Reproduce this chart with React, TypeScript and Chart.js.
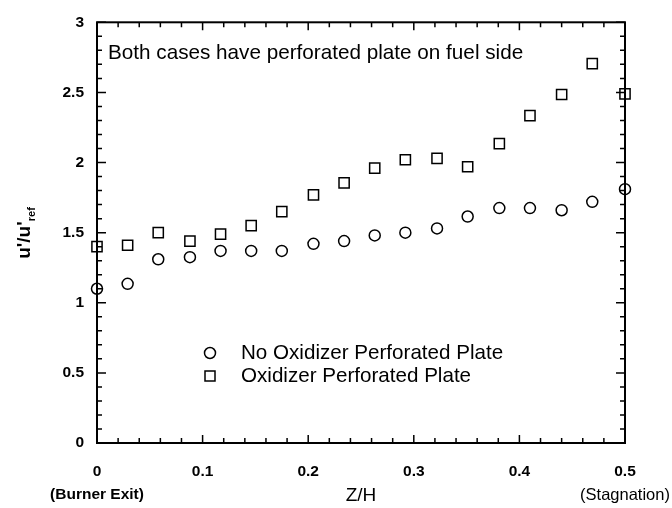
import React, { useEffect, useRef } from "react";
import { Chart, registerables } from "chart.js";

Chart.register(...registerables);

// Data
const zOverH = [0, 0.029, 0.058, 0.088, 0.117, 0.146, 0.175, 0.205, 0.234, 0.263, 0.292, 0.322, 0.351, 0.381, 0.41, 0.44, 0.469, 0.5];
const noOxidizerPlate = [1.1, 1.135, 1.31, 1.325, 1.37, 1.37, 1.37, 1.42, 1.44, 1.48, 1.5, 1.53, 1.615, 1.675, 1.675, 1.66, 1.72, 1.81];
const oxidizerPlate = [1.4, 1.41, 1.5, 1.44, 1.49, 1.55, 1.65, 1.77, 1.855, 1.96, 2.02, 2.03, 1.97, 2.135, 2.335, 2.485, 2.705, 2.49];

const seriesLabels = ["No Oxidizer Perforated Plate", "Oxidizer Perforated Plate"];
const annotationText = "Both cases have perforated plate on fuel side";
const xTickLabels = ["0", "0.1", "0.2", "0.3", "0.4", "0.5"];
const yTickLabels = ["0", "0.5", "1", "1.5", "2", "2.5", "3"];

const FONT = "'Liberation Sans', Arial, Helvetica, sans-serif";

const framePlugin = {
  id: "frameAndTicks",
  afterDatasetsDraw(chart: any) {
    const { ctx, chartArea: a, scales } = chart;
    const xs = scales.x;
    const ys = scales.y;
    ctx.save();
    ctx.strokeStyle = "#000";
    ctx.lineWidth = 2;
    ctx.strokeRect(a.left, a.top, a.right - a.left, a.bottom - a.top);
    ctx.lineWidth = 1.5;
    ctx.beginPath();
    for (let i = 0; i <= 25; i++) {
      const v = i * 0.02;
      const px = xs.getPixelForValue(v);
      const len = i % 5 === 0 ? 8 : 5;
      ctx.moveTo(px, a.bottom);
      ctx.lineTo(px, a.bottom - len);
      ctx.moveTo(px, a.top);
      ctx.lineTo(px, a.top + len);
    }
    for (let i = 0; i <= 30; i++) {
      const v = i * 0.1;
      const py = ys.getPixelForValue(v);
      const len = i % 5 === 0 ? 9 : 5;
      ctx.moveTo(a.left, py);
      ctx.lineTo(a.left + len, py);
      ctx.moveTo(a.right, py);
      ctx.lineTo(a.right - len, py);
    }
    ctx.stroke();
    ctx.restore();
  },
  afterDraw(chart: any) {
    const { ctx, chartArea: a, scales } = chart;
    const xs = scales.x;
    ctx.save();
    ctx.fillStyle = "#000";
    ctx.strokeStyle = "#000";
    ctx.textBaseline = "middle";

    // annotation
    ctx.font = `20.7px ${FONT}`;
    ctx.textAlign = "left";
    ctx.fillText(annotationText, 108, 53);

    // legend
    const legendX = 210;
    const rows = [353, 376];
    ctx.lineWidth = 1.5;
    ctx.beginPath();
    ctx.arc(legendX, rows[0], 5.5, 0, Math.PI * 2);
    ctx.stroke();
    ctx.strokeRect(legendX - 5, rows[1] - 5, 10, 10);
    ctx.font = `20.6px ${FONT}`;
    ctx.fillText(seriesLabels[0], 241, rows[0]);
    ctx.fillText(seriesLabels[1], 241, rows[1]);

    // x-axis title and end notes
    ctx.textAlign = "center";
    ctx.font = `19px ${FONT}`;
    ctx.fillText("Z/H", (a.left + a.right) / 2, 496);
    ctx.font = `bold 15.5px ${FONT}`;
    ctx.fillText("(Burner Exit)", xs.getPixelForValue(0), 495);
    ctx.font = `16.5px ${FONT}`;
    ctx.fillText("(Stagnation)", xs.getPixelForValue(0.5), 495);

    // y-axis title u'/u'ref
    ctx.save();
    ctx.translate(25, 233);
    ctx.rotate(-Math.PI / 2);
    ctx.font = `bold 19px ${FONT}`;
    const main = "u'/u'";
    const wMain = ctx.measureText(main).width;
    ctx.font = `bold 11px ${FONT}`;
    const sub = "ref";
    const wSub = ctx.measureText(sub).width;
    const start = -(wMain + wSub) / 2;
    ctx.textAlign = "left";
    ctx.textBaseline = "alphabetic";
    ctx.font = `bold 19px ${FONT}`;
    ctx.fillText(main, start, 5);
    ctx.font = `bold 11px ${FONT}`;
    ctx.fillText(sub, start + wMain, 10);
    ctx.restore();

    ctx.restore();
  },
};

export default function App() {
  const canvasRef = useRef<HTMLCanvasElement | null>(null);

  useEffect(() => {
    const canvas = canvasRef.current;
    if (!canvas) return;
    const toPoints = (ys: number[]) => ys.map((y, i) => ({ x: zOverH[i], y }));
    const chart = new Chart(canvas, {
      type: "scatter",
      data: {
        datasets: [
          {
            label: seriesLabels[0],
            data: toPoints(noOxidizerPlate),
            pointStyle: "circle",
            pointRadius: 5.5,
            pointBorderWidth: 1.5,
            borderColor: "#000",
            backgroundColor: "rgba(0,0,0,0)",
            pointBackgroundColor: "rgba(0,0,0,0)",
            pointBorderColor: "#000",
            clip: false,
          } as any,
          {
            label: seriesLabels[1],
            data: toPoints(oxidizerPlate),
            pointStyle: "rect",
            pointRadius: 7.2,
            pointBorderWidth: 1.5,
            borderColor: "#000",
            backgroundColor: "rgba(0,0,0,0)",
            pointBackgroundColor: "rgba(0,0,0,0)",
            pointBorderColor: "#000",
            clip: false,
          } as any,
        ],
      },
      options: {
        responsive: false,
        animation: false,
        devicePixelRatio: 1,
        layout: { padding: { top: 15, right: 47, bottom: 0, left: 0 } },
        plugins: {
          legend: { display: false },
          tooltip: { enabled: false },
          title: { display: false },
        },
        scales: {
          x: {
            type: "linear",
            min: 0,
            max: 0.5,
            grid: { display: false, drawTicks: false },
            border: { display: false },
            ticks: {
              stepSize: 0.1,
              padding: 19,
              color: "#000",
              font: { family: FONT, size: 15.5, weight: "bold" },
              maxRotation: 0,
              callback: (v: any) => xTickLabels[Math.round(Number(v) * 10)] ?? "",
            },
            afterFit: (s: any) => {
              s.height = 65;
            },
          },
          y: {
            type: "linear",
            min: 0,
            max: 3,
            grid: { display: false, drawTicks: false },
            border: { display: false },
            ticks: {
              stepSize: 0.5,
              padding: 13,
              color: "#000",
              font: { family: FONT, size: 15.5, weight: "bold" },
              callback: (v: any) => yTickLabels[Math.round(Number(v) * 2)] ?? "",
            },
            afterFit: (s: any) => {
              s.width = 97;
            },
          },
        },
      },
      plugins: [framePlugin],
    });
    return () => chart.destroy();
  }, []);

  return (
    <div style={{ position: "fixed", left: 0, top: 0, width: 672, height: 508, background: "#fff" }}>
      <canvas ref={canvasRef} width={672} height={508} style={{ width: 672, height: 508, display: "block" }} />
    </div>
  );
}
